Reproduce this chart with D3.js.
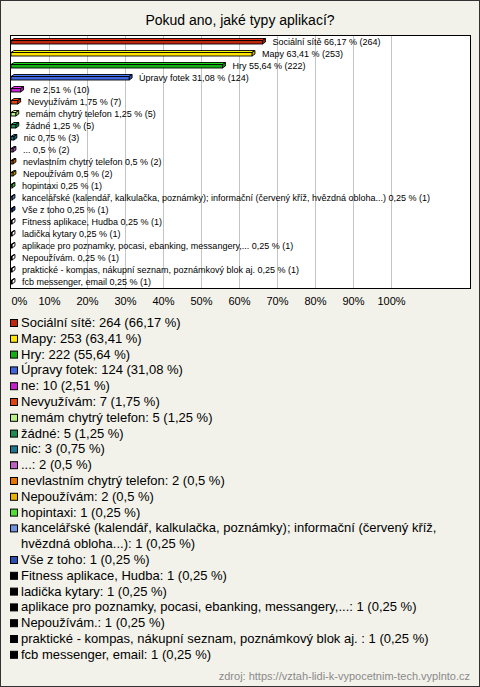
<!DOCTYPE html>
<html><head><meta charset="utf-8">
<script src="https://cdn.jsdelivr.net/npm/d3@7"></script>
<style>
html,body{margin:0;padding:0;background:#f2f2ea;}
svg{display:block;font-family:"Liberation Sans",Arial,sans-serif;}
</style></head>
<body>
<svg id="c" width="480" height="687"></svg>
<script>
const categories = ["Sociální sítě","Mapy","Hry","Úpravy fotek","ne","Nevyužívám","nemám chytrý telefon","žádné","nic","...","nevlastním chytrý telefon","Nepoužívám","hopintaxi","kancelářské (kalendář, kalkulačka, poznámky); informační (červený kříž, hvězdná obloha...)","Vše z toho","Fitness aplikace, Hudba","ladička kytary","aplikace pro poznamky, pocasi, ebanking, messangery,...","Nepoužívám.","praktické - kompas, nákupní seznam, poznámkový blok aj. ","fcb messenger, email"];
const counts = [264,253,222,124,10,7,5,5,3,2,2,2,1,1,1,1,1,1,1,1,1];
const percents = [66.17,63.41,55.64,31.08,2.51,1.75,1.25,1.25,0.75,0.5,0.5,0.5,0.25,0.25,0.25,0.25,0.25,0.25,0.25,0.25,0.25];
const colors = ["#c0260e","#ffe400","#12b012","#3f66dc","#c81ed0","#e2440e","#b8f284","#1c8c50","#1a7890","#c060c4","#e87400","#e8b400","#4ce030","#6c94e2","#2a50b4","#000","#000","#000","#000","#000","#000"];
const ticks = [0,10,20,30,40,50,60,70,80,90,100];
const title = "Pokud ano, jaké typy aplikací?";
const source = "zdroj: https://vztah-lidi-k-vypocetnim-tech.vyplnto.cz";

const fmt = v => String(v).replace(".", ",");
const svg = d3.select("#c");
svg.append("rect").attr("x",0.5).attr("y",0.5).attr("width",479).attr("height",686)
  .attr("fill","#f2f2ea").attr("stroke","#333");

svg.append("text").attr("x",240).attr("y",25).attr("text-anchor","middle")
  .attr("font-size",14).attr("fill","#000").text(title);

const plot = {l:10.5, r:470.5, t:35.5, b:288.5};
const x = d3.scaleLinear().domain([0,100]).range([11,391]);
const y = d3.scaleBand().domain(categories).range([36,288]);

svg.append("rect").attr("x",plot.l).attr("y",plot.t).attr("width",plot.r-plot.l).attr("height",plot.b-plot.t)
  .attr("fill","#fff").attr("stroke","#000");

svg.append("g").selectAll("line").data(ticks.slice(1)).join("line")
  .attr("x1",d=>Math.round(x(d))+0.5).attr("x2",d=>Math.round(x(d))+0.5)
  .attr("y1",plot.t+0.5).attr("y2",plot.b-0.5).attr("stroke","#c4c4c4");

const ax = svg.append("g").attr("transform",`translate(0,${plot.b})`)
  .call(d3.axisBottom(x).tickValues(ticks).tickFormat(d=>d+"%").tickSize(0).tickPadding(9));
ax.select(".domain").remove();
ax.selectAll("text").attr("font-size",11).attr("font-family","Liberation Sans, Arial, sans-serif").attr("fill","#000");
ax.selectAll(".tick").filter(d=>d===0).select("text").attr("text-anchor","start");

const d = 3, dv = 2, h = 3.5;
const bars = svg.append("g").selectAll("g").data(categories).join("g");
bars.each(function(cat,i){
  const g = d3.select(this);
  const x0 = x(0), x1 = x(percents[i]), c = y(cat) + y.bandwidth()/2;
  const y0 = c - 1.5, y1 = y0 + h;
  const col = d3.color(colors[i]);
  const top = col.brighter(0.6).formatHex(), side = col.darker(0.6).formatHex();
  g.append("path").attr("d",`M${x0},${y0}L${x0+d},${y0-dv}L${x1+d},${y0-dv}L${x1},${y0}Z`)
    .attr("fill",colors[i]==="#000"?"#fff":top).attr("stroke","#000").attr("stroke-width",0.9);
  g.append("path").attr("d",`M${x1},${y0}L${x1+d},${y0-dv}L${x1+d},${y1-dv}L${x1},${y1}Z`)
    .attr("fill",colors[i]==="#000"?"#fff":side).attr("stroke","#000").attr("stroke-width",0.9);
  g.append("rect").attr("x",x0).attr("y",y0).attr("width",Math.max(x1-x0,0.5)).attr("height",h)
    .attr("fill",colors[i]).attr("stroke","#000").attr("stroke-width",0.9);
  g.append("text").attr("x",x1+10).attr("y",c+3).attr("font-size",9).attr("fill","#000")
    .text(`${cat} ${fmt(percents[i])} % (${counts[i]})`);
});

// legend
const lg = svg.append("g");
let line = 0;
const lh = 15.8, ly0 = 327;
categories.forEach((cat,i)=>{
  const by = ly0 + line*lh;
  lg.append("rect").attr("x",10.5).attr("y",by-7.5).attr("width",7).attr("height",7)
    .attr("fill",colors[i]).attr("stroke","#000");
  const t = lg.append("text").attr("x",21).attr("y",by).attr("font-size",13).attr("fill","#000");
  const full = `${cat}: ${counts[i]} (${fmt(percents[i])} %)`;
  const words = full.split(" ");
  let cur = [], ts = t.append("tspan").attr("x",21).attr("y",by);
  words.forEach(w=>{
    cur.push(w); ts.text(cur.join(" "));
    if (ts.node().getComputedTextLength() > 452 && cur.length>1){
      cur.pop(); ts.text(cur.join(" "));
      line++; cur=[w];
      ts = t.append("tspan").attr("x",21).attr("y",ly0+line*lh).text(w);
    }
  });
  line++;
});

svg.append("text").attr("x",470).attr("y",680).attr("text-anchor","end")
  .attr("font-size",11).attr("fill","#8a8a8a").text(source);
</script>
</body></html>
